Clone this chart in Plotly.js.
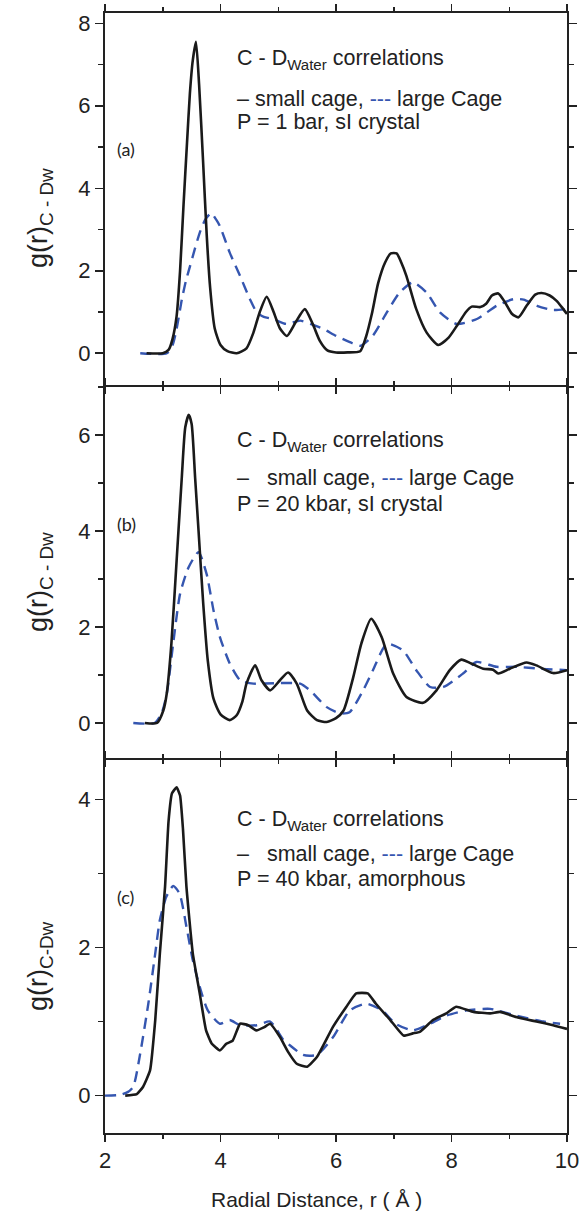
<!DOCTYPE html>
<html>
<head>
<meta charset="utf-8">
<script src="https://cdn.plot.ly/plotly-3.0.1.min.js"></script>
<style>html,body{margin:0;padding:0;background:#fff;}#chart{width:580px;height:1212px;}</style>
</head>
<body>
<div id="chart"></div>
<script>
// ---- Panel (a): P = 1 bar, sI crystal ----
const rA_small = [2.72,3.0,3.1,3.17,3.24,3.3,3.36,3.42,3.47,3.52,3.575,3.63,3.7,3.76,3.82,3.9,4.0,4.12,4.28,4.45,4.57,4.68,4.8,4.92,5.03,5.15,5.3,5.46,5.6,5.72,5.85,6.0,6.2,6.42,6.52,6.62,6.73,6.85,6.95,7.05,7.13,7.22,7.39,7.57,7.77,7.95,8.1,8.25,8.35,8.5,8.6,8.7,8.81,8.92,9.05,9.16,9.3,9.45,9.56,9.7,9.82,9.92,10.0];
const gA_small = [0,0,0.08,0.35,0.9,2.0,3.6,5.1,6.3,7.1,7.55,6.5,4.6,2.9,1.6,0.6,0.2,0.05,0,0.12,0.5,1.0,1.37,1.0,0.6,0.42,0.75,1.07,0.7,0.3,0.07,0.02,0.02,0.05,0.4,0.95,1.7,2.2,2.42,2.42,2.2,1.87,1.07,0.5,0.2,0.38,0.68,1.0,1.13,1.12,1.2,1.4,1.45,1.25,0.95,0.87,1.15,1.42,1.46,1.4,1.27,1.1,0.95];
const rA_large = [2.61,3.07,3.17,3.24,3.33,3.4,3.47,3.55,3.64,3.74,3.84,3.92,3.99,4.16,4.34,4.51,4.63,4.75,4.91,5.14,5.38,5.58,5.78,6.0,6.24,6.42,6.64,6.88,7.1,7.33,7.57,7.8,8.09,8.44,8.78,9.07,9.25,9.48,9.75,10.0];
const gA_large = [0,0,0.2,0.59,1.3,1.75,2.1,2.5,2.92,3.25,3.4,3.25,3.08,2.44,1.87,1.31,0.99,0.88,0.83,0.71,0.79,0.7,0.59,0.42,0.27,0.18,0.43,0.99,1.47,1.72,1.47,0.99,0.71,0.83,1.15,1.31,1.3,1.15,1.05,1.07];

// ---- Panel (b): P = 20 kbar, sI crystal ----
const rB_small = [2.69,2.9,3.01,3.07,3.15,3.24,3.33,3.39,3.45,3.5,3.56,3.62,3.7,3.78,3.88,4.0,4.16,4.28,4.38,4.45,4.6,4.71,4.86,5.03,5.17,5.32,5.5,5.67,5.84,6.0,6.13,6.3,6.44,6.61,6.79,6.99,7.22,7.51,7.74,7.97,8.17,8.34,8.55,8.72,8.81,9.01,9.3,9.47,9.76,10.0];
const gB_small = [0,0,0.26,0.62,1.66,3.38,5.12,6.16,6.42,6.23,5.12,4.0,2.5,1.3,0.5,0.18,0.06,0.16,0.45,0.82,1.2,0.89,0.68,0.89,1.05,0.82,0.26,0.06,0.02,0.1,0.26,0.96,1.66,2.17,1.79,1.03,0.54,0.42,0.68,1.1,1.32,1.24,1.13,1.11,1.03,1.13,1.26,1.2,1.04,1.1];
const rB_large = [2.49,2.86,2.98,3.07,3.18,3.3,3.45,3.62,3.76,3.88,3.99,4.16,4.34,4.57,4.97,5.38,5.55,5.84,6.07,6.24,6.47,6.64,6.88,7.16,7.39,7.63,7.86,8.2,8.43,8.78,9.13,9.53,10.0];
const gB_large = [0,0,0.2,0.61,1.65,2.69,3.25,3.56,3.1,2.34,1.79,1.24,0.89,0.82,0.83,0.82,0.68,0.33,0.2,0.23,0.68,1.1,1.65,1.51,1.1,0.75,0.75,1.03,1.27,1.17,1.17,1.13,1.1];

// ---- Panel (c): P = 40 kbar, amorphous ----
const rC_small = [2.35,2.55,2.66,2.78,2.87,2.95,3.04,3.1,3.16,3.24,3.3,3.35,3.41,3.52,3.64,3.75,3.85,3.99,4.1,4.21,4.34,4.48,4.62,4.75,4.86,5.03,5.17,5.32,5.5,5.67,5.95,6.18,6.35,6.55,6.69,6.94,7.17,7.33,7.45,7.68,7.91,8.08,8.38,8.67,8.84,9.12,9.47,9.76,10.0];
const gC_small = [0,0.02,0.12,0.34,1.02,1.92,2.82,3.7,4.08,4.16,4.05,3.6,2.82,1.92,1.38,0.88,0.7,0.61,0.7,0.74,0.97,0.95,0.88,0.92,0.97,0.79,0.59,0.43,0.39,0.52,0.93,1.2,1.38,1.38,1.24,1.02,0.81,0.84,0.86,1.02,1.11,1.2,1.13,1.11,1.13,1.06,1.0,0.95,0.9];
const rC_large = [2.0,2.26,2.4,2.49,2.61,2.75,2.87,2.95,3.06,3.18,3.29,3.41,3.52,3.64,3.78,3.99,4.16,4.34,4.63,4.86,5.09,5.2,5.43,5.67,5.95,6.24,6.52,6.8,7.03,7.33,7.63,7.91,8.26,8.67,9.12,9.59,9.88];
const gC_large = [0,0.01,0.05,0.12,0.57,1.24,1.92,2.37,2.68,2.83,2.73,2.28,1.83,1.47,1.15,0.97,1.02,0.95,0.95,1.0,0.75,0.68,0.55,0.55,0.79,1.15,1.24,1.15,0.97,0.88,0.97,1.08,1.15,1.17,1.08,1.0,0.97];

const panelLabels = ['(a)','(b)','(c)'];
const pressureLines = ['P = 1 bar, sI crystal','P = 20 kbar, sI crystal','P = 40 kbar, amorphous'];
const yTitles = ['g(r)<sub>C - Dw</sub>','g(r)<sub>C - Dw</sub>','g(r)<sub>C-Dw</sub>'];
const xTitle = 'Radial Distance, r ( Å )';

const BLUE = '#3556b0';
const BLACK = '#1a1a1a';
const FONT = 'Liberation Sans, Arial, Helvetica, sans-serif';

const W = 580, H = 1212, L = 105, R = 13, T = 13, B = 79;
const pw = W - L - R, ph = H - T - B;
const px = v => (v - L) / pw;
const py = v => (H - B - v) / ph;

function solid(x, y, xa, ya, sm) {
  return {x, y, xaxis: xa, yaxis: ya, mode: 'lines', type: 'scatter',
    line: {color: BLACK, width: 2.6, shape: 'spline', smoothing: sm || 0.6}, hoverinfo: 'skip'};
}
function dashed(x, y, xa, ya) {
  return {x, y, xaxis: xa, yaxis: ya, mode: 'lines', type: 'scatter',
    line: {color: BLUE, width: 2.4, dash: '11px,7px', shape: 'spline', smoothing: 0.6}, hoverinfo: 'skip'};
}

const data = [
  dashed(rA_large, gA_large, 'x', 'y'), solid(rA_small, gA_small, 'x', 'y'),
  dashed(rB_large, gB_large, 'x2', 'y2'), solid(rB_small, gB_small, 'x2', 'y2'),
  dashed(rC_large, gC_large, 'x3', 'y3'), solid(rC_small, gC_small, 'x3', 'y3', 0.4)
];

function xax(anchor, labels) {
  return {anchor, range: [2, 10], tick0: 2, dtick: 2, ticks: 'outside', ticklen: 7, tickwidth: 1.5,
    tickcolor: '#222', showline: true, linewidth: 2, linecolor: '#222', mirror: 'allticks',
    minor: {dtick: 1, ticks: 'outside', ticklen: 4, tickwidth: 1.5, tickcolor: '#222'},
    showgrid: false, zeroline: false, showticklabels: labels,
    tickfont: {family: FONT, size: 22, color: '#222'}};
}
function yax(anchor, domain, range) {
  return {anchor, domain, range, tick0: 0, dtick: 2, ticks: 'outside', ticklen: 8, tickwidth: 1.5,
    tickcolor: '#222', showline: true, linewidth: 2, linecolor: '#222', mirror: 'allticks',
    minor: {dtick: 1, ticks: 'outside', ticklen: 5, tickwidth: 1.5, tickcolor: '#222'},
    showgrid: false, zeroline: false,
    tickfont: {family: FONT, size: 22, color: '#222'}};
}

const txtFont = {family: FONT, size: 21.5, color: '#222'};
const ann = [];
const headY = [60, 442, 820];
const line2Y = [99, 478, 854];
const line3Y = [122, 504, 879];
const labY = [149, 524, 897];
const yTitleY = [218, 582, 966];
const legendLine = [
  '– small cage, <span style="color:' + BLUE + '">---</span> large Cage',
  '–\u00a0\u00a0 small cage, <span style="color:' + BLUE + '">---</span> large Cage',
  '–\u00a0\u00a0 small cage, <span style="color:' + BLUE + '">---</span> large Cage'
];
for (let i = 0; i < 3; i++) {
  ann.push({xref: 'paper', yref: 'paper', x: px(235), y: py(headY[i]), xanchor: 'left', yanchor: 'middle',
    text: 'C - D<sub>Water</sub> correlations', showarrow: false, font: txtFont});
  ann.push({xref: 'paper', yref: 'paper', x: px(235), y: py(line2Y[i]), xanchor: 'left', yanchor: 'middle',
    text: legendLine[i], showarrow: false, font: txtFont});
  ann.push({xref: 'paper', yref: 'paper', x: px(235), y: py(line3Y[i]), xanchor: 'left', yanchor: 'middle',
    text: pressureLines[i], showarrow: false, font: txtFont});
  ann.push({xref: 'paper', yref: 'paper', x: px(115), y: py(labY[i]), xanchor: 'left', yanchor: 'middle',
    text: panelLabels[i], showarrow: false, font: {family: 'Lato, Open Sans, sans-serif', size: 18, color: '#222'}});
  ann.push({xref: 'paper', yref: 'paper', x: px(40), y: py(yTitleY[i]), xanchor: 'center', yanchor: 'middle',
    textangle: -90, text: yTitles[i], showarrow: false, font: {family: FONT, size: 27, color: '#222'}});
}
ann.push({xref: 'paper', yref: 'paper', x: px(316), y: py(1199), xanchor: 'center', yanchor: 'middle',
  text: xTitle, showarrow: false, font: {family: FONT, size: 21, color: '#222'}});

// domains overlap so that shared axis lines coincide (2px lines)
const layout = {
  width: W, height: H, margin: {l: L, r: R, t: T, b: B}, showlegend: false,
  paper_bgcolor: '#fff', plot_bgcolor: '#fff',
  xaxis: xax('y', false), xaxis2: xax('y2', false), xaxis3: xax('y3', true),
  yaxis: yax('x', [py(385), 1], [-0.77, 8.25]),
  yaxis2: yax('x2', [py(758), py(387)], [-0.73, 7.0]),
  yaxis3: yax('x3', [0, py(760)], [-0.505, 4.53]),
  annotations: ann
};
Plotly.newPlot('chart', data, layout, {staticPlot: true});
</script>
</body>
</html>
